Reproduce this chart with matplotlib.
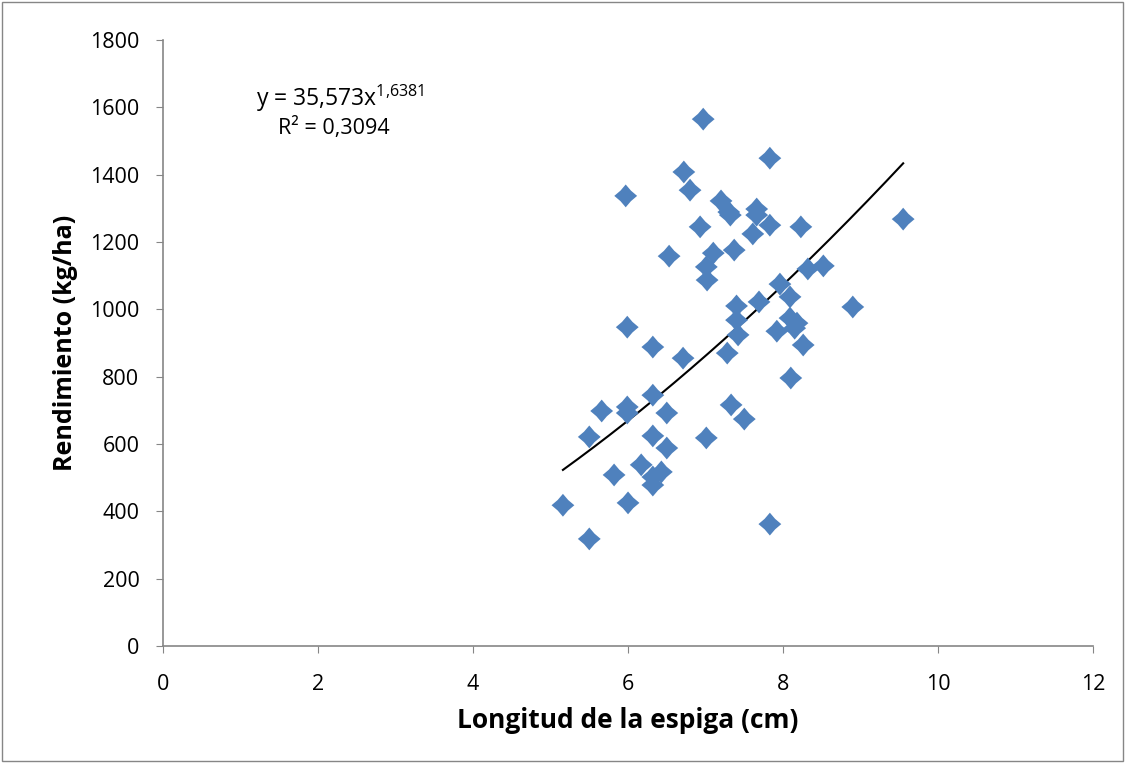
import numpy as np
import matplotlib
matplotlib.use('Agg')
import matplotlib.pyplot as plt
from matplotlib.patches import Rectangle

plt.rcParams['font.family'] = ['Open Sans', 'DejaVu Sans']
plt.rcParams['mathtext.fontset'] = 'custom'
plt.rcParams['mathtext.rm'] = 'Open Sans'

# Datos
longitud = [6.97, 7.83, 6.72, 6.80, 5.97, 7.20, 7.30, 7.32, 7.66, 7.66,
            7.83, 8.23, 6.93, 9.55, 7.61, 6.53, 7.10, 7.37, 7.01, 7.02,
            8.52, 8.32, 7.96, 8.09, 8.90, 7.40, 7.69, 8.09, 8.18, 7.92,
            7.40, 5.99, 7.42, 7.28, 8.15, 8.26, 6.32, 6.71, 8.10, 6.32,
            5.66, 5.99, 5.99, 6.50, 7.33, 7.50, 5.50, 6.32, 6.50, 7.01,
            6.17, 5.82, 6.32, 6.43, 6.32, 6.00, 5.16, 5.50, 7.83]
rendimiento = [1565, 1449, 1408, 1354, 1337, 1322, 1289, 1280, 1298, 1280,
               1250, 1245, 1245, 1268, 1224, 1158, 1167, 1176, 1126, 1087,
               1129, 1120, 1075, 1037, 1007, 1010, 1022, 974, 959, 935,
               968, 947, 924, 870, 944, 894, 888, 855, 796, 745,
               698, 710, 692, 692, 716, 674, 621, 624, 588, 618,
               538, 508, 502, 517, 478, 425, 418, 318, 362]

# Linea de tendencia potencial
coef_a = 35.573
coef_b = 1.6381

# rombo con lados un poco concavos, como el de Excel
k = 0.46
rombo = [(0, 1), (k, k), (1, 0), (k, -k), (0, -1), (-k, -k), (-1, 0), (-k, k), (0, 1)]

fig = plt.figure(figsize=(11.25, 7.64), dpi=100)
ax = fig.add_axes([0.1449, 0.1545, 0.8267, 0.7931])

ax.scatter(longitud, rendimiento, marker=rombo, s=270, color='#4F81BD',
           edgecolors='none', zorder=3)

xs = np.linspace(min(longitud), max(longitud), 200)
ax.plot(xs, coef_a * xs ** coef_b, color='black', linewidth=1.5, zorder=2)

ax.set_xlim(0, 12)
ax.set_ylim(0, 1800)
ax.set_xticks(range(0, 13, 2))
ax.set_yticks(range(0, 1801, 200))
ax.tick_params(labelsize=15.5, direction='out', length=5, color='#868686')
ax.tick_params(axis='y', pad=12)
ax.tick_params(axis='x', pad=15)
for side in ['top', 'right']:
    ax.spines[side].set_visible(False)
for side in ['left', 'bottom']:
    ax.spines[side].set_color('#868686')
    ax.spines[side].set_linewidth(1.2)

ax.set_xlabel('Longitud de la espiga (cm)', fontsize=19, fontweight='bold', labelpad=9)
ax.set_ylabel('Rendimiento (kg/ha)', fontsize=18, fontweight='bold', labelpad=9)

ax.text(0.19, 0.904, r'y = 35,573x$^{\mathregular{1{,}6381}}$', transform=ax.transAxes,
        fontsize=16.5, ha='center', va='center')
ax.text(0.184, 0.855, 'R² = 0,3094', transform=ax.transAxes,
        fontsize=15.5, ha='center', va='center')

fig.patches.append(Rectangle((0.002, 0.004), 0.996, 0.994, transform=fig.transFigure,
                             fill=False, edgecolor='#868686', linewidth=1))

plt.savefig('out.png', dpi=100)
